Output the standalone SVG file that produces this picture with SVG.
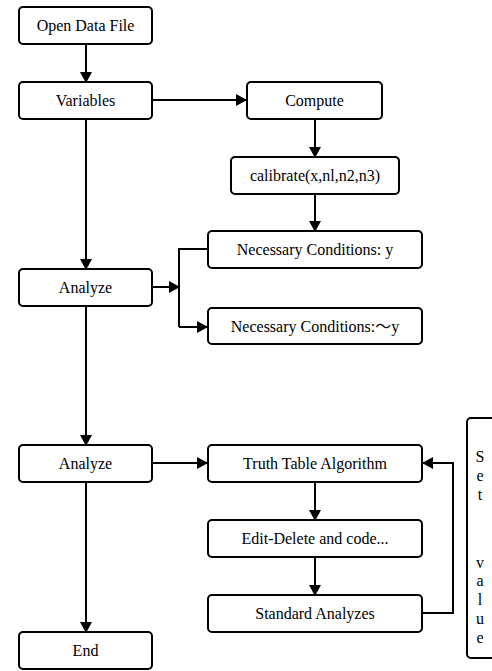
<svg xmlns="http://www.w3.org/2000/svg" width="492" height="671" viewBox="0 0 492 671">
  <style>
    .box { fill: #ffffff; stroke: #000000; stroke-width: 2; }
    .lbl { font-family: "Liberation Serif", "Times New Roman", "DejaVu Serif", serif; font-size: 16px; fill: #000000; text-anchor: middle; }
    .cjk { font-family: "Liberation Serif", "Times New Roman", "Noto Sans CJK SC", serif; }
    .edge { fill: none; stroke: #000000; stroke-width: 2; }
    .arr { marker-end: url(#head); }
  </style>
  <defs>
    <marker id="head" markerUnits="userSpaceOnUse" markerWidth="11" markerHeight="12" refX="10" refY="6" orient="auto">
      <path d="M0,0 L11,6 L0,12 z" fill="#000000"/>
    </marker>
  </defs>
  <rect width="492" height="671" fill="#ffffff"/>

  <g id="connectors">
    <path class="edge arr" d="M86,44 V82"/>
    <path class="edge arr" d="M152,100 H246"/>
    <path class="edge arr" d="M315,119 V157"/>
    <path class="edge arr" d="M315,194 V231"/>
    <path class="edge arr" d="M86,119 V269"/>
    <path class="edge arr" d="M152,287 H179"/>
    <path class="edge" d="M208,249 H179 V327"/>
    <path class="edge arr" d="M179,327 H207"/>
    <path class="edge arr" d="M86,306 V445"/>
    <path class="edge arr" d="M152,463 H207"/>
    <path class="edge arr" d="M315,482 V520"/>
    <path class="edge arr" d="M315,557 V595"/>
    <path class="edge arr" d="M422,613 H453 V463 H423"/>
    <path class="edge arr" d="M86,482 V632"/>
  </g>

  <g id="open-data-file">
    <rect class="box" x="19" y="7" width="133" height="37" rx="4"/>
    <text class="lbl" x="85.5" y="31">Open Data File</text>
  </g>
  <g id="variables">
    <rect class="box" x="19" y="82" width="133" height="37" rx="4"/>
    <text class="lbl" x="85.5" y="106">Variables</text>
  </g>
  <g id="compute">
    <rect class="box" x="247" y="82" width="135" height="37" rx="4"/>
    <text class="lbl" x="314.5" y="106">Compute</text>
  </g>
  <g id="calibrate">
    <rect class="box" x="231" y="157" width="168" height="37" rx="4"/>
    <text class="lbl" x="315" y="181">calibrate(x,nl,n2,n3)</text>
  </g>
  <g id="necessary-y">
    <rect class="box" x="208" y="231" width="214" height="37" rx="4"/>
    <text class="lbl" x="315" y="255">Necessary Conditions: y</text>
  </g>
  <g id="analyze-1">
    <rect class="box" x="19" y="269" width="133" height="37" rx="4"/>
    <text class="lbl" x="85.5" y="293">Analyze</text>
  </g>
  <g id="necessary-not-y">
    <rect class="box" x="208" y="308" width="214" height="36" rx="4"/>
    <text class="lbl cjk" x="315" y="332">Necessary Conditions:～y</text>
  </g>
  <g id="analyze-2">
    <rect class="box" x="19" y="445" width="133" height="37" rx="4"/>
    <text class="lbl" x="85.5" y="469">Analyze</text>
  </g>
  <g id="truth-table">
    <rect class="box" x="208" y="445" width="214" height="37" rx="4"/>
    <text class="lbl" x="315" y="469">Truth Table Algorithm</text>
  </g>
  <g id="edit-delete">
    <rect class="box" x="208" y="520" width="214" height="37" rx="4"/>
    <text class="lbl" x="315" y="544">Edit-Delete and code...</text>
  </g>
  <g id="standard-analyzes">
    <rect class="box" x="208" y="595" width="214" height="37" rx="4"/>
    <text class="lbl" x="315" y="619">Standard Analyzes</text>
  </g>
  <g id="end">
    <rect class="box" x="19" y="632" width="133" height="37" rx="4"/>
    <text class="lbl" x="85.5" y="656">End</text>
  </g>
  <g id="set-value">
    <rect class="box" x="467" y="418" width="40" height="240" rx="4"/>
    <text class="lbl" x="480" y="462">S</text>
    <text class="lbl" x="480" y="481">e</text>
    <text class="lbl" x="480" y="500">t</text>
    <text class="lbl" x="480" y="568">v</text>
    <text class="lbl" x="480" y="586">a</text>
    <text class="lbl" x="480" y="605">l</text>
    <text class="lbl" x="480" y="624">u</text>
    <text class="lbl" x="480" y="643">e</text>
  </g>
</svg>
